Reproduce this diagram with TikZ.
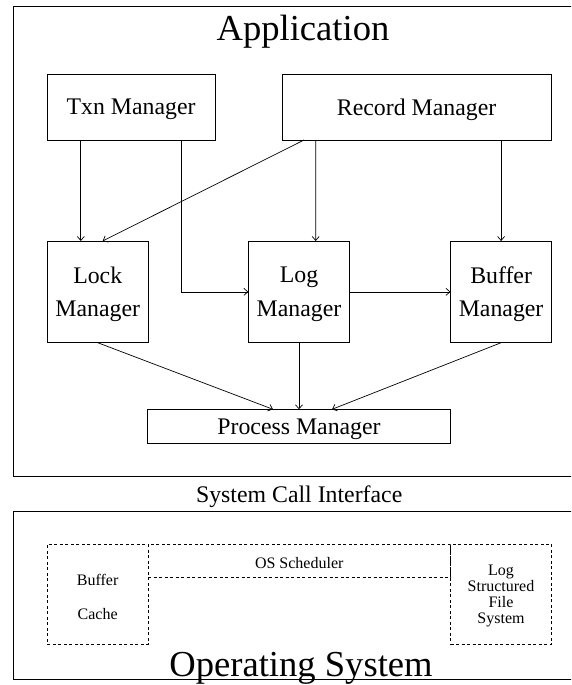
\documentclass[tikz,border=0pt]{standalone}
\usepackage{fontspec}
\setmainfont{Liberation Serif}
\usetikzlibrary{arrows.meta}
\begin{document}
\begin{tikzpicture}[x=1pt,y=-1pt,
  frame/.style={draw, line width=0.9pt, inner sep=0pt, outer sep=0pt},
  box/.style={draw, line width=0.8pt, inner sep=0pt, outer sep=0pt, align=center,
    text depth=0pt, font=\fontsize{23.8}{33.3}\selectfont},
  dbox/.style={draw, dash pattern=on 3pt off 2.5pt, line width=0.7pt, inner sep=0pt,
    outer sep=0pt, align=center, text depth=0pt},
  arr/.style={line width=0.7pt, -{Straight Barb[length=4pt,width=7pt]}},
  big/.style={font=\fontsize{36.6}{40}\selectfont, inner sep=0pt},
  mid/.style={font=\fontsize{23.8}{28}\selectfont, inner sep=0pt},
  ]
\useasboundingbox (0,0) rectangle (571,685);
\fill[white] (0,0) rectangle (571,685);
\clip (0,0) rectangle (571,685);
% outer frames
\node[frame, minimum width=579.5pt, minimum height=470.7pt] (app) at (303.25,241.35) {};
\node[frame, minimum width=579.5pt, minimum height=168pt] (os) at (303.25,595) {};
% titles
\node[big, anchor=base] (apptitle) at (303,40.5) {Application};
\node[big, anchor=base] (ostitle) at (301,676) {Operating System};
\node[mid, anchor=base] (sci) at (299.2,502.5) {System Call Interface};
% application boxes
\node[box, minimum width=167.6pt, minimum height=66pt] (txn) at (131.1,107) {Txn Manager};
\node[box, minimum width=268.8pt, minimum height=66pt] (rec) at (416.6,107) {Record Manager};
\node[box, minimum width=100.9pt, minimum height=101.7pt] (lock) at (97.75,291.85) {Lock\\Manager};
\node[box, minimum width=101.2pt, minimum height=101.7pt] (log) at (299,291.85) {Log\\Manager};
\node[box, minimum width=101.2pt, minimum height=101.7pt] (buf) at (501.1,291.85) {Buffer\\Manager};
\node[box, minimum width=303pt, minimum height=34pt] (proc) at (299,426.3) {Process Manager};
% arrows
\draw[arr] ([xshift=33.5pt]txn.south west) -- ([xshift=33.5pt]lock.north west);
\draw[arr] ([xshift=-33.2pt]txn.south east) |- (log.west);
\draw[arr] ([xshift=21.8pt]rec.south west) -- ([xshift=55.4pt]lock.north west);
\draw[arr] ([xshift=33.5pt]rec.south west) -- ([xshift=16.7pt]log.north);
\draw[arr] (rec.south -| buf.north) -- (buf.north);
\draw[arr] (log.east) -- (buf.west);
\draw[arr] (lock.south) -- ([xshift=-26pt]proc.north);
\draw[arr] (log.south) -- (proc.north);
\draw[arr] (buf.south) -- ([xshift=33pt]proc.north);
% OS dashed boxes
\node[dbox, minimum width=100.7pt, minimum height=100pt,
  font=\fontsize{16}{34}\selectfont] (bc) at (97.65,594.3) {\rule{0pt}{16pt}Buffer\\Cache};
\node[dbox, minimum width=302.5pt, minimum height=33pt, text height=16pt,
  font=\fontsize{16}{18}\selectfont] (sched) at (299.25,560.8) {OS Scheduler};
\node[dbox, minimum width=101pt, minimum height=100pt,
  font=\fontsize{16}{16.3}\selectfont] (lsfs) at (501,594.3) {Log\\Structured\\File\\System};
\end{tikzpicture}
\end{document}
